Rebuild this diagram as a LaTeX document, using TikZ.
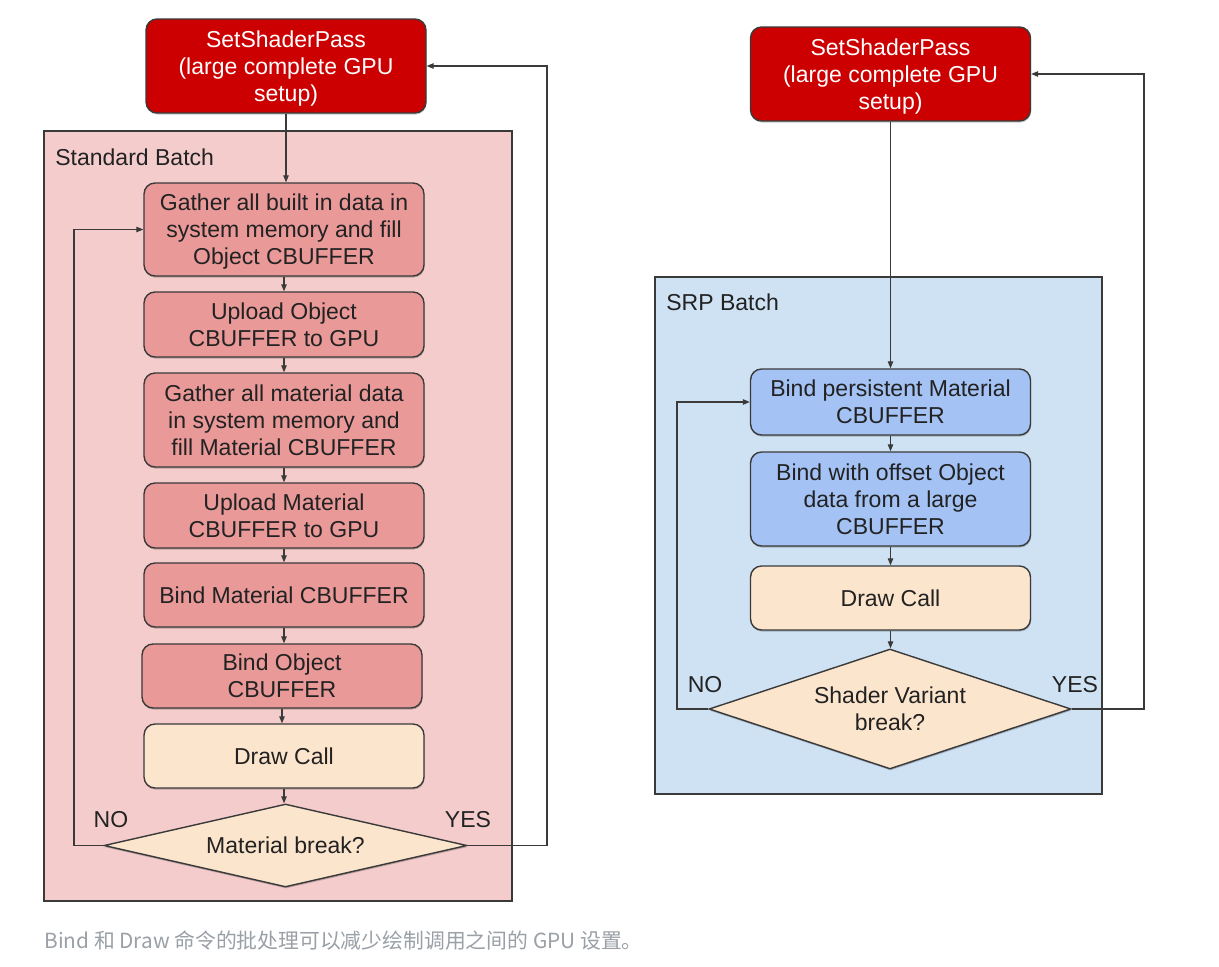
\documentclass[tikz,border=0pt]{standalone}
\usepackage{fontspec}
\setmainfont{Liberation Sans}
\newfontfamily\cjk{Noto Sans CJK SC}
\usetikzlibrary{shapes.geometric,arrows.meta,shadows}
\definecolor{ssred}{HTML}{CC0000}
\definecolor{pinkbg}{HTML}{F4CCCC}
\definecolor{pinkbox}{HTML}{EA9999}
\definecolor{creambox}{HTML}{FCE5CD}
\definecolor{bluebg}{HTML}{CFE2F3}
\definecolor{bluebox}{HTML}{A4C2F4}
\definecolor{edge}{HTML}{3A3A3A}
\definecolor{txt}{HTML}{222222}
\definecolor{captiongray}{HTML}{9AA0A6}
\tikzset{
  every node/.style={font=\fontsize{13.1pt}{15.4pt}\selectfont, text=txt},
  softshadow/.style={drop shadow={shadow xshift=0.3pt, shadow yshift=-0.9pt, fill=black, opacity=0.22}},
  procbox/.style={draw=edge, line width=0.8pt, rounded corners=0.22cm, align=center,
    minimum width=5.6cm, inner sep=0pt, text depth=0pt, softshadow},
  redbox/.style={procbox, fill=ssred, text=white, minimum height=1.88cm},
  pinkb/.style={procbox, fill=pinkbox},
  blueb/.style={procbox, fill=bluebox},
  creamb/.style={procbox, fill=creambox},
  decision/.style={diamond, draw=edge, line width=0.8pt, fill=creambox, align=center, inner sep=0pt, softshadow},
  container/.style={draw=edge, line width=0.8pt, inner sep=0pt},
  conn/.style={draw=edge, line width=0.6pt, -{Triangle[length=0.14cm,width=0.11cm]}},
  lab/.style={anchor=west, inner sep=0pt},
}
\begin{document}
\begin{tikzpicture}[x=0.02cm,y=-0.02cm]
\useasboundingbox (0,0) rectangle (1219,966);
\fill[white] (0,0) rectangle (1219,966);
% containers
\draw[container, fill=pinkbg] (44,131) rectangle (512,901);
\draw[container, fill=bluebg] (655,277) rectangle (1102,794);
\node[lab] (stdlab) at (55,157) {Standard Batch};
\node[lab] (srplab) at (666,302) {SRP Batch};
% left column
\node[redbox] (lssp) at (286,66) {SetShaderPass\\(large complete GPU\\setup)};
\node[pinkb, minimum height=1.86cm] (l1) at (284,229.5) {Gather all built in data in\\system memory and fill\\Object CBUFFER};
\node[pinkb, minimum height=1.3cm] (l2) at (284,324.5) {Upload Object\\CBUFFER to GPU};
\node[pinkb, minimum height=1.88cm] (l3) at (284,420) {Gather all material data\\in system memory and\\fill Material CBUFFER};
\node[pinkb, minimum height=1.3cm] (l4) at (284,515.5) {Upload Material\\CBUFFER to GPU};
\node[pinkb, minimum height=1.28cm] (l5) at (284,595) {Bind Material CBUFFER};
\node[pinkb, minimum height=1.28cm] (l6) at (282,676) {Bind Object\\CBUFFER};
\node[creamb, minimum height=1.28cm] (l7) at (284,756) {Draw Call};
\node[decision, aspect=4.37, minimum width=7.26cm, minimum height=1.66cm] (ld) at (285.5,845.5) {Material break?};
\node (lno) at (111,820) {NO};
\node (lyes) at (468,820) {YES};
% right column
\node[redbox] (rssp) at (890.5,74) {SetShaderPass\\(large complete GPU\\setup)};
\node[blueb, minimum height=1.32cm] (r1) at (890.5,402) {Bind persistent Material\\CBUFFER};
\node[blueb, minimum height=1.88cm] (r2) at (890.5,499) {Bind with offset Object\\data from a large\\CBUFFER};
\node[creamb, minimum height=1.28cm] (r3) at (890.5,598) {Draw Call};
\node[decision, aspect=3.0, minimum width=7.24cm, minimum height=2.4cm, text depth=0pt] (rd) at (890,709) {Shader Variant\\break?};
\node (rno) at (705,685) {NO};
\node (ryes) at (1075,685) {YES};
% coordinates for loops
\coordinate (lnoc) at (74,845.5);
\coordinate (lyesc) at (547,845.5);
\coordinate (rnoc) at (677,709);
\coordinate (ryesc) at (1144,709);
% left connectors
\draw[conn] (lssp.south) -- (lssp.south |- l1.north);
\draw[conn] (l1.south -| l1.north) -- (l2.north);
\draw[conn] (l2) -- (l3);
\draw[conn] (l3) -- (l4);
\draw[conn] (l4) -- (l5);
\draw[conn] (l5.south) -- (l5.south |- l6.north);
\draw[conn] (l6.south) -- (l6.south |- l7.north);
\draw[conn] (l7.south) -- (l7.south |- ld.north);
\draw[conn] (ld.west) -- (lnoc) |- (l1.west);
\draw[conn] (ld.east) -- (lyesc) |- (lssp.east);
% right connectors
\draw[conn] (rssp.south) -- (r1.north);
\draw[conn] (r1) -- (r2);
\draw[conn] (r2) -- (r3);
\draw[conn] (r3.south) -- (r3.south |- rd.north);
\draw[conn] (rd.west) -- (rnoc) |- (r1.west);
\draw[conn] (rd.east) -- (ryesc) |- (rssp.east);
% caption
\node[lab, text=captiongray, font=\cjk\fontsize{11.85pt}{14pt}\selectfont] (cap) at (44,941) {Bind 和 Draw 命令的批处理可以减少绘制调用之间的 GPU 设置。};
\end{tikzpicture}
\end{document}
